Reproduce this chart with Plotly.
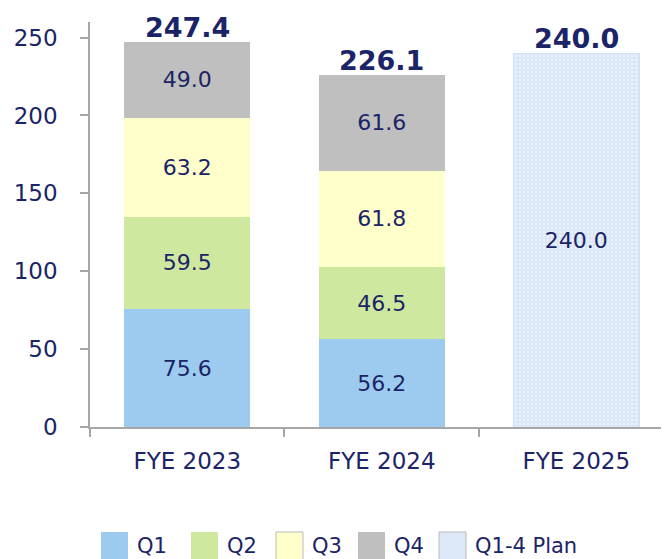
import plotly.graph_objects as go

categories = ["FYE 2023", "FYE 2024", "FYE 2025"]
q1 = [75.6, 56.2, None]
q2 = [59.5, 46.5, None]
q3 = [63.2, 61.8, None]
q4 = [49.0, 61.6, None]
plan = [None, None, 240.0]
totals = [247.4, 226.1, 240.0]
y_ticks = [0, 50, 100, 150, 200, 250]
legend_names = ["Q1", "Q2", "Q3", "Q4", "Q1-4 Plan"]

NAVY = "#1B2466"
FONT = "DejaVu Sans"
colors = ["#9DCBF0", "#CFE8A0", "#FFFFCC", "#BFBFBF"]

fig = go.Figure()
for name, vals, col in zip(legend_names[:4], [q1, q2, q3, q4], colors):
    fig.add_trace(go.Bar(
        x=categories, y=vals, name=name,
        marker=dict(color=col, line=dict(width=0)),
        texttemplate="%{y:.1f}", textposition="inside",
        insidetextanchor="middle", textangle=0,
        textfont=dict(family=FONT, size=22, color=NAVY),
        width=0.65, showlegend=False,
    ))
fig.add_trace(go.Bar(
    x=categories, y=plan, name=legend_names[4],
    marker=dict(color="#DCE8F8", line=dict(width=1, color="#D2E1F5"),
                pattern=dict(shape=".", fgcolor="#FFFFFF", bgcolor="#DAE7F8",
                             size=4, solidity=0.25)),
    texttemplate="%{y:.1f}", textposition="inside",
    insidetextanchor="middle", textangle=0,
    textfont=dict(family=FONT, size=22, color=NAVY),
    width=0.65, showlegend=False,
))

for c, t in zip(categories, totals):
    fig.add_annotation(x=c, y=t, text=f"<b>{t:.1f}</b>", showarrow=False,
                       yanchor="bottom", yshift=-3,
                       font=dict(family=FONT, size=27, color=NAVY))

# page has an 8px body margin: figure coordinates = screen - 8
OFF = 8
W, H = 669 - OFF, 559 - OFF
PX0, PY0 = 90 - OFF, 427 - OFF
PW, PH = W - PX0, PY0 - (22 - OFF)

# custom legend
leg_x = [101, 191, 276, 358, 439]
leg_fill = colors + ["#DCE8F8"]
leg_line = ["rgba(0,0,0,0)", "rgba(0,0,0,0)", "#BBBBBB", "rgba(0,0,0,0)", "#BBBBBB"]
for name, lx, fc, lc in zip(legend_names, leg_x, leg_fill, leg_line):
    sx = lx - OFF
    fig.add_shape(type="rect", xref="paper", yref="paper",
                  x0=(sx - PX0) / PW, x1=(sx + 27 - PX0) / PW,
                  y0=(PY0 - (562 - OFF)) / PH, y1=(PY0 - (532 - OFF)) / PH,
                  fillcolor=fc, line=dict(color=lc, width=1))
    fig.add_annotation(xref="paper", yref="paper", x=(sx + 34 - PX0) / PW,
                       y=(PY0 - (546 - OFF)) / PH, text=name, showarrow=False,
                       xanchor="left", yanchor="middle",
                       font=dict(family=FONT, size=21, color=NAVY))

fig.update_layout(
    width=W, height=H,
    margin=dict(l=PX0, r=0, t=22 - OFF, b=H - PY0),
    barmode="stack", bargap=0.35,
    plot_bgcolor="white", paper_bgcolor="white",
    font=dict(family=FONT, color=NAVY),
    showlegend=False,
)
fig.update_xaxes(
    range=[-0.5, 2.477], showline=True, linecolor="#A6A6A6", linewidth=1.5,
    ticks="outside", tickson="boundaries", ticklen=8, tickcolor="#A6A6A6",
    tickwidth=1.5, ticklabelstandoff=13, automargin=False,
    tickfont=dict(family=FONT, size=23, color=NAVY), showgrid=False,
)
fig.update_yaxes(
    range=[0, 260], tickvals=y_ticks, showline=True, linecolor="#A6A6A6",
    linewidth=1.5, ticks="outside", ticklen=8, tickcolor="#A6A6A6", tickwidth=1.5,
    ticklabelstandoff=18, automargin=False,
    tickfont=dict(family=FONT, size=23, color=NAVY),
    showgrid=False, zeroline=False,
)

fig.write_html("out.html")
